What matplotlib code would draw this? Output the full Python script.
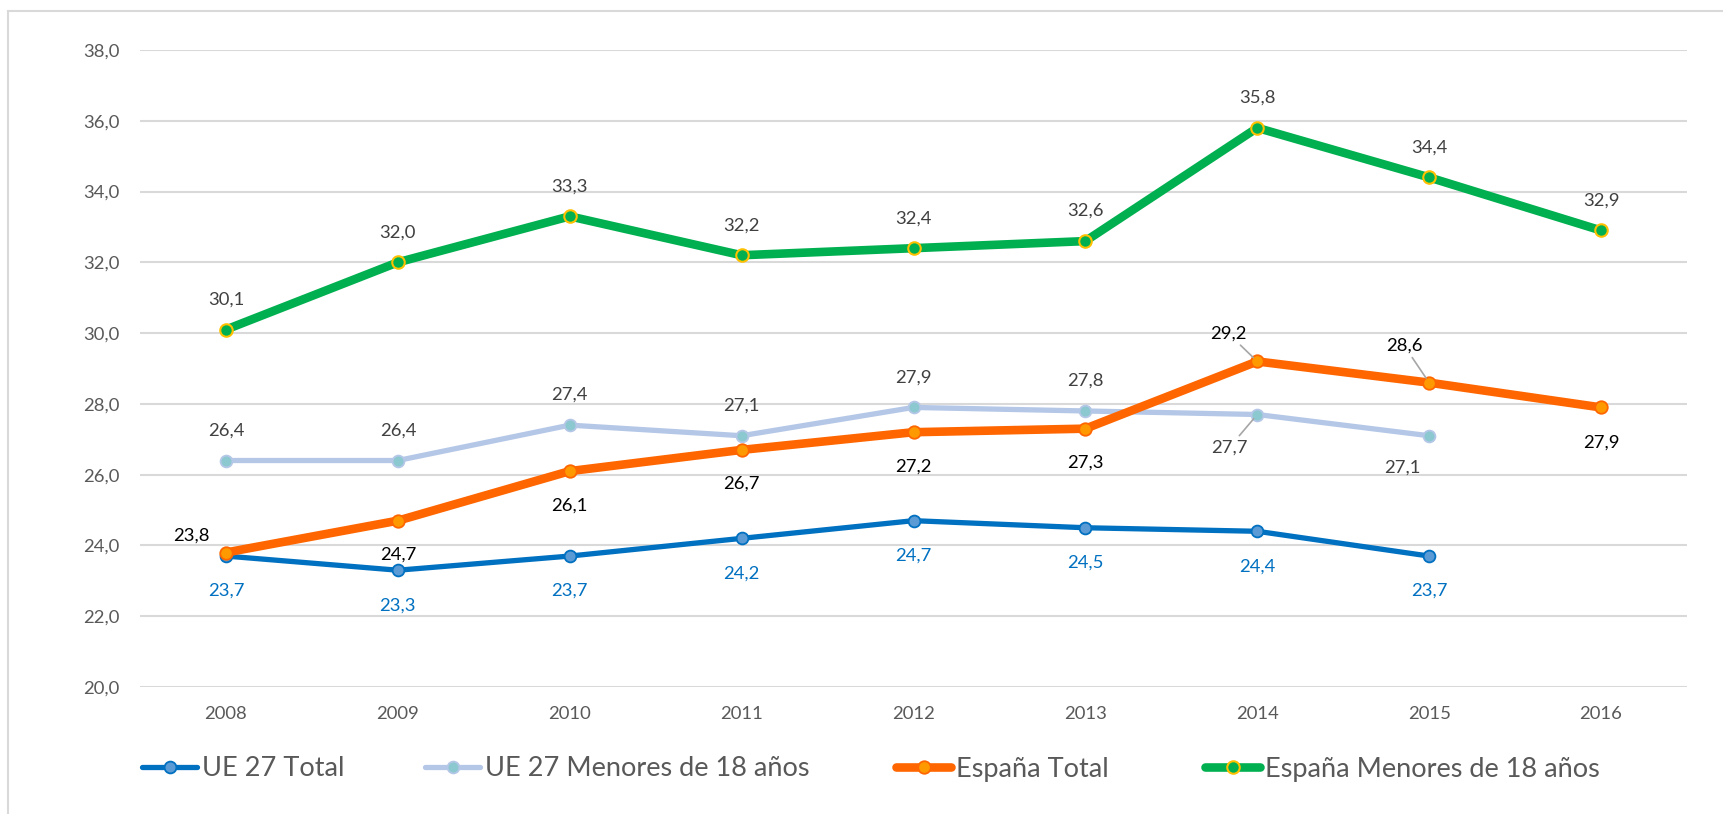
import matplotlib
matplotlib.use("Agg")
import matplotlib.pyplot as plt
import numpy as np
from matplotlib.lines import Line2D

# ---------------- data ----------------
years = ["2008", "2009", "2010", "2011", "2012", "2013", "2014", "2015", "2016"]
ue27_total = [23.7, 23.3, 23.7, 24.2, 24.7, 24.5, 24.4, 23.7, np.nan]
ue27_menores = [26.4, 26.4, 27.4, 27.1, 27.9, 27.8, 27.7, 27.1, np.nan]
esp_total = [23.8, 24.7, 26.1, 26.7, 27.2, 27.3, 29.2, 28.6, 27.9]
esp_menores = [30.1, 32.0, 33.3, 32.2, 32.4, 32.6, 35.8, 34.4, 32.9]
series_names = ["UE 27 Total", "UE 27 Menores de 18 años", "España Total",
                "España Menores de 18 años"]
y_ticks = [20, 22, 24, 26, 28, 30, 32, 34, 36, 38]

# ---------------- style ----------------
FONT = ["Lato", "DejaVu Sans"]
plt.rcParams["font.family"] = FONT
W, H = 1723, 814
fig = plt.figure(figsize=(W / 100, H / 100), dpi=100)
ax = fig.add_axes([140 / W, (H - 687) / H, (1687 - 140) / W, (687 - 50) / H])

x = np.arange(len(years))

styles = [
    dict(color="#0070C0", lw=3.8, mfc="#5B9BD5", mec="#0070C0", ms=8.5, mew=1.3),
    dict(color="#B4C7E7", lw=3.8, mfc="#8CC8CF", mec="#B4C7E7", ms=8.5, mew=1.3),
    dict(color="#FF6600", lw=6.2, mfc="#FF9900", mec="#FF6600", ms=9.0, mew=1.3),
    dict(color="#00B050", lw=6.2, mfc="#00B050", mec="#FFC000", ms=9.0, mew=1.5),
]
all_series = [ue27_total, ue27_menores, esp_total, esp_menores]

handles = []
for i, (vals, st) in enumerate(zip(all_series, styles)):
    ln, = ax.plot(x, vals, marker="o", color=st["color"], lw=st["lw"],
                  markerfacecolor=st["mfc"], markeredgecolor=st["mec"],
                  markersize=st["ms"], markeredgewidth=st["mew"],
                  solid_capstyle="round", zorder=3 + i, label=series_names[i])
    handles.append(ln)

# ---------------- data labels ----------------
def fmt(v):
    return f"{v:.1f}".replace(".", ",")

label_specs = [
    (ue27_total, "#0070C0", [(0, -35)] * 9, [False] * 9),
    (ue27_menores, "#404040",
     [(0, 30)] * 6 + [(-28, -33), (-27, -32), (0, 0)],
     [False] * 6 + [True, False, False]),
    (esp_total, "#000000",
     [(-35, 17)] + [(0, -34)] * 5 + [(-29, 28), (-25, 37), (0, -35)],
     [False] * 6 + [True, True, False]),
    (esp_menores, "#404040", [(0, 30)] * 9, [False] * 9),
]

for vals, col, offs, leaders in label_specs:
    for xi, v, off, lead in zip(x, vals, offs, leaders):
        if np.isnan(v):
            continue
        kw = {}
        if lead:
            kw["arrowprops"] = dict(arrowstyle="-", color="#A6A6A6", lw=1.2,
                                    shrinkA=1, shrinkB=4)
        ax.annotate(fmt(v), xy=(xi, v), xytext=off, textcoords="offset pixels",
                    ha="center", va="center", fontsize=13.3, color=col,
                    zorder=10, **kw)

# ---------------- axes ----------------
ax.set_xlim(-0.5, len(years) - 0.5)
ax.set_ylim(20, 38)
ax.set_xticks(x)
ax.set_xticklabels(years)
ax.set_yticks(y_ticks)
ax.set_yticklabels([fmt(t) for t in y_ticks])
ax.tick_params(axis="both", length=0, labelsize=13.3, labelcolor="#595959")
ax.tick_params(axis="y", pad=15)
ax.tick_params(axis="x", pad=14)
ax.grid(axis="y", color="#D9D9D9", lw=1.5, zorder=0)
ax.set_axisbelow(True)
for sp in ax.spines.values():
    sp.set_visible(False)

# ---------------- legend ----------------
leg_font = 19.5
fs_px = leg_font / 0.72
anchors = [142, 425, 896, 1205]
for h, name, ax_x in zip(handles, series_names, anchors):
    proxy = Line2D([0], [0], color=h.get_color(), lw=h.get_linewidth(),
                   marker="o", markerfacecolor=h.get_markerfacecolor(),
                   markeredgecolor=h.get_markeredgecolor(),
                   markersize=h.get_markersize(),
                   markeredgewidth=h.get_markeredgewidth(),
                   solid_capstyle="round")
    lg = fig.legend(handles=[proxy], labels=[name], loc="center left",
                    bbox_to_anchor=(ax_x / W, (H - 769) / H),
                    frameon=False, fontsize=leg_font, borderpad=0,
                    borderaxespad=0, handlelength=55 / fs_px,
                    handletextpad=5 / fs_px, numpoints=1)
    for t in lg.get_texts():
        t.set_color("#595959")

# ---------------- outer border ----------------
fig.add_artist(Line2D([8 / W, 1], [1 - 11 / H, 1 - 11 / H], color="#D9D9D9",
                      lw=1.5, transform=fig.transFigure))
fig.add_artist(Line2D([8 / W, 8 / W], [0, 1 - 11 / H], color="#D9D9D9",
                      lw=1.5, transform=fig.transFigure))

fig.savefig("out.png", dpi=100)
